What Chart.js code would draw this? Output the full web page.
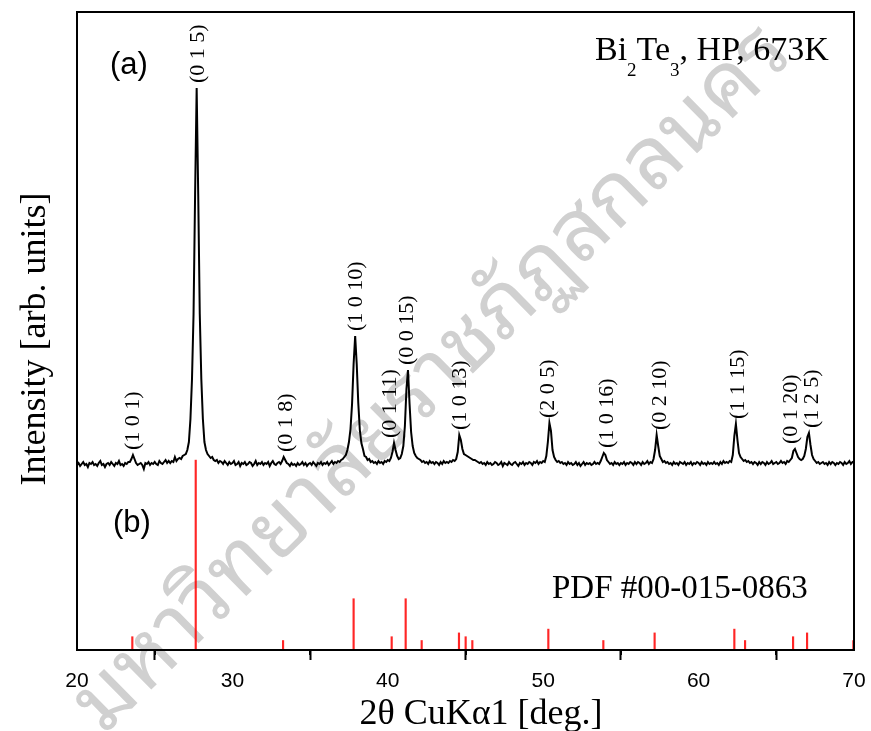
<!DOCTYPE html>
<html>
<head>
<meta charset="utf-8">
<script src="https://cdn.jsdelivr.net/npm/chart.js@4.4.0/dist/chart.umd.min.js"></script>
<style>
  html, body { margin: 0; padding: 0; background: #fff; }
  #xrd { display: block; }
</style>
</head>
<body>
<canvas id="xrd" width="871" height="731"></canvas>
<script>
// XRD scan of hot-pressed Bi2Te3 (673 K), 20-70 deg, 0.1 deg step
var scanStart = 20.0;
var scanStep = 0.1;
var xrdCounts = [
  19,21,18,20,22,19,20,17,21,20,
  22,19,20,18,21,23,19,20,17,20,
  21,19,22,20,18,21,20,23,19,20,
  18,21,20,22,22,25,29,25,21,19,
  20,21,19,15,21,20,22,19,21,20,
  22,20,19,23,21,20,22,24,21,23,
  21,23,22,27,23,25,26,25,28,29,
  30,34,42,65,105,170,290,396,290,170,
  105,65,42,34,30,28,26,27,24,23,
  24,21,23,22,20,23,21,19,22,20,
  21,23,19,20,22,18,21,20,22,19,
  20,22,21,18,20,23,19,21,20,22,
  19,21,20,22,18,21,23,20,19,21,
  22,20,23,27,24,21,20,18,21,19,
  20,18,21,19,20,22,19,21,18,20,
  21,19,22,20,18,21,20,22,19,21,
  20,22,19,21,23,20,22,21,23,22,
  24,25,27,29,34,42,55,80,120,148,
  120,81,54,41,35,28,27,24,25,22,
  23,21,22,20,23,21,22,20,23,22,
  24,23,26,32,41,34,28,25,26,30,
  38,58,95,114,80,52,38,31,28,26,
  25,24,22,23,21,22,20,23,21,22,
  20,22,21,19,22,20,23,21,22,21,
  23,22,24,23,25,32,49,44,35,30,
  29,28,27,26,25,24,24,23,22,21,
  22,20,21,19,22,20,21,19,20,22,
  21,19,20,22,18,21,20,19,22,20,
  19,21,22,20,18,21,20,22,19,21,
  20,22,21,19,22,21,23,20,22,21,
  23,22,28,42,61,53,34,27,24,22,
  23,21,22,20,21,19,22,20,21,19,
  20,22,19,21,18,20,22,19,21,20,
  21,19,20,22,20,21,20,23,27,31,
  29,24,22,20,21,19,22,20,21,19,
  21,20,22,19,21,20,22,21,19,22,
  20,22,21,19,22,20,21,23,20,22,
  21,25,34,49,38,28,25,22,23,21,
  22,20,21,19,22,20,21,19,22,21,
  20,22,19,21,20,22,19,21,20,22,
  21,19,22,20,21,19,22,20,21,20,
  22,20,21,19,22,20,23,21,22,21,
  23,22,29,48,60,44,31,27,25,23,
  24,22,23,21,22,20,22,21,19,22,
  20,22,21,19,22,20,21,23,20,21,
  22,20,21,23,21,22,20,23,22,24,
  26,33,35,31,27,25,24,25,28,35,
  47,51,39,29,25,23,21,22,20,21,
  22,20,21,19,22,20,22,21,19,21,
  20,22,21,19,22,20,21,23,20,22,
  21
];

// PDF #00-015-0863 stick pattern
var pdfAngle = [23.56, 27.64, 33.26, 37.80, 40.25, 41.15, 42.18, 44.58, 45.01, 45.44,
                50.33, 53.87, 57.17, 62.30, 62.99, 66.08, 66.98, 69.96];
var pdfIntensity = [7, 100, 5, 27, 7, 27, 5, 9, 7, 5, 11, 5, 9, 11, 5, 7, 9, 5];

// indexed reflections
var hklLabels = ['(1 0 1)', '(0 1 5)', '(0 1 8)', '(1 0 10)', '(0 1 11)', '(0 0 15)', '(1 0 13)',
                 '(2 0 5)', '(1 0 16)', '(0 2 10)', '(1 1 15)', '(0 1 20)', '(1 2 5)'];
var hklAngle = [23.61, 27.79, 33.49, 37.95, 40.14, 41.22, 44.65, 50.31, 54.09, 57.52, 62.54, 65.99, 67.28];

var xTicks = [20, 30, 40, 50, 60, 70];
var xMinorTicks = [25, 35, 45, 55, 65];

var SERIF = '"Liberation Serif", "Times New Roman", serif';
var SANS = '"Liberation Sans", Arial, sans-serif';
var THAI = '"Noto Sans Thai Looped", "Loma", "Garuda", "Kinnari", "Noto Sans Thai", sans-serif';

var xrdAngle = xrdCounts.map(function (c, i) { return +(scanStart + i * scanStep).toFixed(1); });
var xrdPoints = xrdCounts.map(function (c, i) { return { x: xrdAngle[i], y: c }; });
var pdfPoints = pdfAngle.map(function (a, i) { return { x: a, y: pdfIntensity[i] }; });

// university watermark, under everything else
var watermark = {
  id: 'watermark',
  beforeDraw: function (chart) {
    var ctx = chart.ctx;
    ctx.save();
    ctx.translate(104, 736);
    ctx.rotate(-44.5 * Math.PI / 180);
    ctx.textAlign = 'left';
    ctx.textBaseline = 'alphabetic';
    ctx.font = '86px ' + THAI;
    ctx.fillStyle = '#d0d0d0';
    ctx.fillText('\u0E21\u0E2B\u0E32\u0E27\u0E34\u0E17\u0E22\u0E32\u0E25\u0E31\u0E22\u0E23\u0E32\u0E0A\u0E20\u0E31\u0E0F\u0E2A\u0E01\u0E25\u0E19\u0E04\u0E23', 0, 0);
    ctx.restore();
  }
};

// frame, minor ticks, hkl labels and annotations
var decorations = {
  id: 'decorations',
  afterDatasetsDraw: function (chart) {
    var ctx = chart.ctx;
    var a = chart.chartArea;
    var xs = chart.scales.x;
    var ys = chart.scales.y;

    ctx.save();
    ctx.strokeStyle = '#000';
    ctx.lineWidth = 2;
    ctx.strokeRect(a.left, a.top, a.right - a.left, a.bottom - a.top);

    xMinorTicks.forEach(function (v) {
      var px = Math.round(xs.getPixelForValue(v));
      ctx.beginPath();
      ctx.moveTo(px, a.bottom);
      ctx.lineTo(px, a.bottom + 5);
      ctx.stroke();
    });

    // peak labels, rotated, sitting just above the local maximum
    ctx.fillStyle = '#000';
    ctx.font = '22px ' + SERIF;
    ctx.textAlign = 'left';
    ctx.textBaseline = 'middle';
    hklLabels.forEach(function (txt, i) {
      var ang = hklAngle[i];
      var top = 0;
      xrdAngle.forEach(function (x, k) {
        if (Math.abs(x - ang) <= 0.3 && xrdCounts[k] > top) top = xrdCounts[k];
      });
      var px = xs.getPixelForValue(ang);
      var py = ys.getPixelForValue(top) - 5;
      ctx.save();
      ctx.translate(px, py);
      ctx.rotate(-Math.PI / 2);
      ctx.fillText(txt, 0, 0);
      ctx.restore();
    });

    ctx.textBaseline = 'alphabetic';
    ctx.font = '31px ' + SANS;
    ctx.fillText('(a)', 110, 74);
    ctx.fillText('(b)', 113, 532);

    // sample title with subscripts
    var x = 595, y = 60;
    var parts = [['Bi', 0], ['2', 1], ['Te', 0], ['3', 1], [', HP, 673K', 0]];
    parts.forEach(function (p) {
      ctx.font = (p[1] ? '19px ' : '34px ') + SERIF;
      ctx.fillText(p[0], x, y + (p[1] ? 16 : 0));
      x += ctx.measureText(p[0]).width;
    });

    ctx.font = '33px ' + SERIF;
    ctx.fillText('PDF #00-015-0863', 552, 598);

    // axis titles
    ctx.textAlign = 'center';
    ctx.font = '36px ' + SERIF;
    ctx.fillText('2\u03B8 CuK\u03B11 [deg.]', 481, 724);
    ctx.save();
    ctx.translate(45, 339);
    ctx.rotate(-Math.PI / 2);
    ctx.font = '36px ' + SERIF;
    ctx.fillText('Intensity [arb. units]', 0, 0);
    ctx.restore();

    ctx.restore();
  }
};

var chart = new Chart(document.getElementById('xrd'), {
  type: 'line',
  data: {
    datasets: [{
      label: 'Bi2Te3, HP, 673K',
      data: xrdPoints,
      yAxisID: 'y',
      borderColor: '#000',
      borderWidth: 2,
      pointRadius: 0,
      tension: 0
    }, {
      type: 'bar',
      label: 'PDF #00-015-0863',
      data: pdfPoints,
      yAxisID: 'y2',
      backgroundColor: 'rgba(255,0,0,0.85)',
      barThickness: 1.5,
      borderWidth: 0
    }]
  },
  plugins: [watermark, decorations],
  options: {
    responsive: false,
    animation: false,
    devicePixelRatio: 1,
    layout: { padding: { left: 77, top: 12, right: 17, bottom: 0 } },
    plugins: { legend: { display: false }, tooltip: { enabled: false } },
    scales: {
      x: {
        type: 'linear',
        min: 20,
        max: 70,
        offset: false,
        afterBuildTicks: function (scale) {
          scale.ticks = xTicks.map(function (v) { return { value: v }; });
        },
        afterFit: function (scale) {
          scale.height = 81;
          scale.paddingLeft = 0;
          scale.paddingRight = 0;
        },
        grid: { display: true, drawOnChartArea: false, drawTicks: true, tickLength: 10, tickWidth: 2, tickColor: '#000' },
        border: { display: false },
        ticks: { color: '#000', font: { family: SANS, size: 21 }, padding: 9, maxRotation: 0 }
      },
      y: { display: false, min: -166, max: 472 },
      y2: { display: false, min: 0, max: 336 }
    }
  }
});
</script>
</body>
</html>
